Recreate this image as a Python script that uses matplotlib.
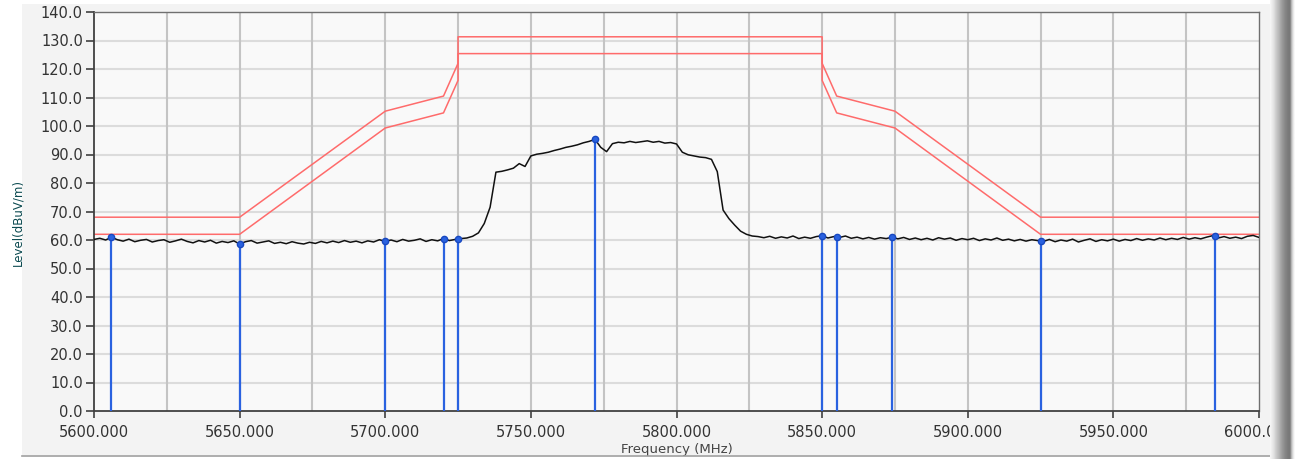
import numpy as np
import matplotlib
matplotlib.use("Agg")
import matplotlib.pyplot as plt
from matplotlib.ticker import MultipleLocator, FormatStrFormatter

# Measured spectrum (2 MHz steps, 5600..6000 MHz)
freq_start, freq_step = 5600, 2
level = [
    60.2, 60.6, 60.0, 61.0, 60.1, 59.6, 60.3, 59.4, 59.9, 60.2,
    59.3, 59.8, 60.1, 59.2, 59.7, 60.3, 59.5, 59.0, 59.8, 59.3,
    59.9, 58.9, 59.5, 59.1, 59.7, 58.6, 59.4, 59.8, 58.9, 59.3,
    59.7, 58.8, 59.2, 58.7, 59.4, 58.9, 58.6, 59.2, 58.8, 59.5,
    59.0, 59.6, 59.1, 59.8, 59.2, 59.6, 59.0, 59.7, 59.3, 60.1,
    59.5, 60.0, 59.4, 60.2, 59.6, 59.9, 60.4, 59.5, 60.1, 59.7,
    60.5, 59.8, 60.2, 60.5, 60.7, 61.3, 62.5, 65.8, 71.5, 83.8,
    84.1, 84.6, 85.2, 86.8, 85.8, 89.5, 90.1, 90.4, 90.8, 91.4,
    91.9, 92.5, 92.9, 93.4, 94.1, 94.6, 95.3, 92.5, 91.0, 93.8,
    94.3, 94.1, 94.6, 94.2, 94.5, 94.8, 94.3, 94.6, 94.0, 94.2,
    93.7, 90.8, 89.9, 89.5, 89.1, 88.9, 88.3, 84.0, 70.5, 67.5,
    65.2, 63.1, 62.0, 61.4, 61.2, 60.8, 61.3, 60.6, 61.1, 60.7,
    61.4, 60.5, 61.0, 60.6, 61.2, 61.5, 60.7, 61.2, 60.9, 61.4,
    60.6, 61.0, 60.4, 60.9, 60.3, 60.8, 60.5, 61.0, 60.4, 60.9,
    60.2, 60.7, 60.1, 60.6, 60.0, 60.8, 60.3, 60.7, 59.9, 60.5,
    60.1, 60.6, 59.8, 60.4, 60.0, 60.7, 59.9, 60.3, 59.7, 60.2,
    59.6, 60.1, 59.8, 59.5, 60.2, 59.4, 60.0, 59.6, 60.3, 59.3,
    59.9, 60.4, 59.5, 60.1, 59.7, 60.3, 59.6, 60.2, 59.8, 60.5,
    59.9, 60.4, 60.0, 60.7, 60.1, 60.6, 60.2, 60.9, 60.3, 60.8,
    60.4, 61.0, 61.5, 60.7, 61.2, 60.6, 61.0, 60.5, 61.3, 61.6,
    60.9,
]
freq = [freq_start + i * freq_step for i in range(len(level))]

# Spectrum mask limits (two lines)
mask_freq = [5600, 5650, 5700, 5720, 5725, 5725, 5850, 5850, 5855, 5875, 5925, 6000]
mask_upper = [68.0, 68.0, 105.2, 110.5, 122.0, 131.3, 131.3, 122.0, 110.5, 105.2, 68.0, 68.0]
mask_lower = [62.0, 62.0, 99.3, 104.6, 116.0, 125.4, 125.4, 116.0, 104.6, 99.3, 62.0, 62.0]

# Marker readings
marker_freq = [5606, 5650, 5700, 5720, 5725, 5772, 5850, 5855, 5874, 5925, 5985]
marker_level = [61.0, 58.6, 59.5, 60.5, 60.4, 95.3, 61.5, 61.0, 61.0, 59.7, 61.4]

fig = plt.figure(figsize=(12.95, 4.59), dpi=100)
fig.patch.set_facecolor("white")

# panel background
bg = fig.add_axes([22 / 1295, 4 / 459, 1248 / 1295, 451 / 459], zorder=-5)
bg.set_facecolor("#f3f3f3")
bg.set_xticks([]); bg.set_yticks([])
for s in bg.spines.values():
    s.set_visible(False)
fig.add_artist(plt.Line2D([22 / 1295, 1270 / 1295], [1 - 456 / 459] * 2,
                          color="#a0a0a0", lw=1.2, transform=fig.transFigure))

ax = fig.add_axes([94 / 1295, 1 - 411 / 459, 1165 / 1295, 399 / 459])
ax.set_facecolor("#f9f9f9")
ax.set_xlim(5600, 6000)
ax.set_ylim(0, 140)

ax.yaxis.set_major_locator(MultipleLocator(10))
ax.yaxis.set_major_formatter(FormatStrFormatter("%.1f"))
ax.xaxis.set_major_locator(MultipleLocator(50))
ax.xaxis.set_major_formatter(FormatStrFormatter("%.3f"))

# grid
for yv in np.arange(10, 140, 10):
    ax.axhline(yv, color="#dcdcdc", lw=1.5, zorder=0)
for xv in np.arange(5625, 6000, 25):
    ax.axvline(xv, color="#c4c4c4", lw=1.5, zorder=0)

ax.plot(mask_freq, mask_upper, color="#ff6b6b", lw=1.1, zorder=2)
ax.plot(mask_freq, mask_lower, color="#ff6b6b", lw=1.1, zorder=2)

ax.plot(freq, level, color="#111111", lw=1.1, zorder=3)

ax.vlines(marker_freq, 0, marker_level, color="#2a62e0", lw=1.6, zorder=4)
ax.plot(marker_freq, marker_level, "o", ms=4.5, color="#2a62e0",
        markeredgecolor="#1848c0", zorder=5)

for side in ("left", "bottom"):
    ax.spines[side].set_color("#404040")
    ax.spines[side].set_linewidth(1.3)
for side in ("top", "right"):
    ax.spines[side].set_color("#707070")
    ax.spines[side].set_linewidth(1.0)

ax.tick_params(axis="y", direction="out", length=6, width=1.2, color="#404040",
               labelsize=10.5, labelcolor="#333333", pad=2)
ax.tick_params(axis="x", direction="out", length=5, width=1.2, color="#404040",
               labelsize=10.5, labelcolor="#333333", pad=5)

ax.set_xlabel("Frequency (MHz)", fontsize=9.5, color="#444444", labelpad=2)
fig.text(18 / 1295, 1 - 222 / 459, "Level(dBuV/m)", rotation=90, fontsize=8.5,
         color="#0b4a50", ha="center", va="center")

# right-hand shaded edge
edge = fig.add_axes([1270 / 1295, 0, 25 / 1295, 1], zorder=10)
grad = np.array([[0.96, 0.93, 0.9, 0.86, 0.82, 0.78, 0.74, 0.7, 0.66, 0.62,
                  0.58, 0.55, 0.52, 0.5, 0.48, 0.47, 0.55, 0.75, 0.9, 0.97]])
edge.imshow(grad, aspect="auto", cmap="gray", vmin=0, vmax=1,
            extent=[0, 1, 0, 1])
edge.set_axis_off()

fig.savefig("out.png", dpi=100, facecolor=fig.get_facecolor())
